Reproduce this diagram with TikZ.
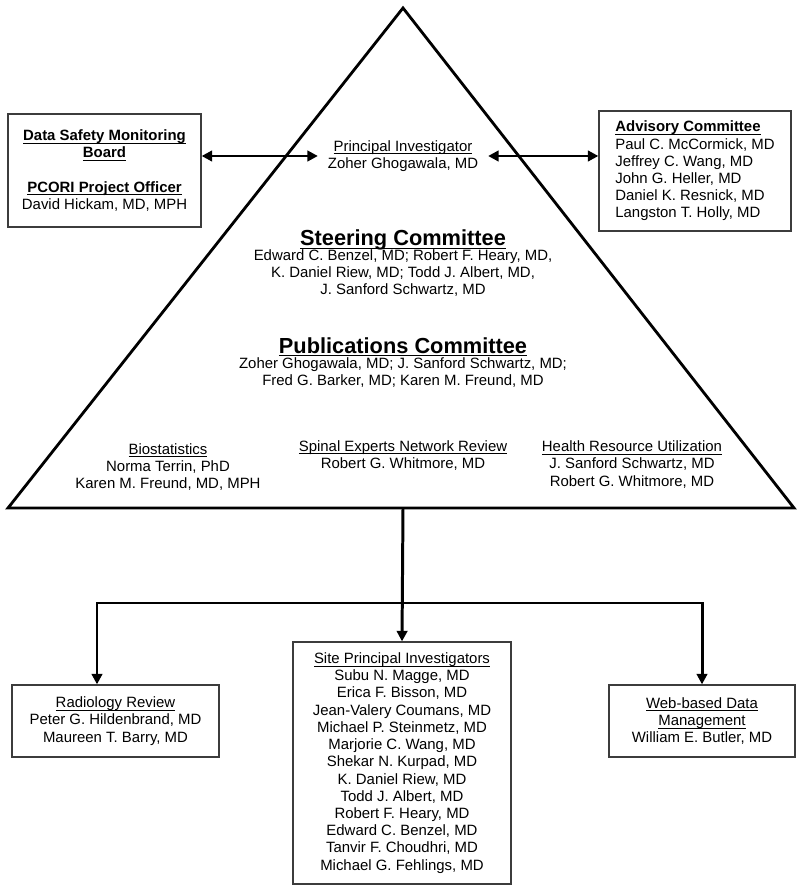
\documentclass[tikz,border=0pt]{standalone}
\usepackage{fontspec}
\setmainfont{Liberation Sans}
\usepackage{tikz}
\usetikzlibrary{arrows.meta,positioning,calc}
\definecolor{orgInk}{HTML}{000000}
\definecolor{orgFrame}{HTML}{3C3C3C}
\newcommand{\bodyfont}{\fontsize{8.5}{9.8}\selectfont}
\newcommand{\headfont}{\fontsize{12.4}{14}\selectfont\bfseries}
\newcommand{\rolehead}[1]{\underline{\smash{#1}}\vphantom{#1}}
\tikzset{
  unitbox/.style={draw=orgFrame,line width=.75pt,align=center,font=\bodyfont,
    inner sep=2pt},
  member/.style={align=center,font=\bodyfont,inner sep=0pt},
  committee/.style={align=center,font=\headfont,inner sep=0pt},
  link/.style={line width=1.7pt,orgInk,-{Triangle[length=6pt,width=6pt]}},
  bothways/.style={line width=1.7pt,orgInk,
    {Triangle[length=6pt,width=6pt]}-{Triangle[length=6pt,width=6pt]}},
  pyramid/.style={line width=1.6pt,orgInk,line join=miter}
}

\begin{document}
\begin{tikzpicture}[x=0.02cm,y=-0.02cm]
  \useasboundingbox (0,0) rectangle (800,891);
  \coordinate (apex) at (403,8);
  \coordinate (baseL) at (8,508);
  \coordinate (baseR) at (794,508);
  \coordinate (baseM) at (403,508);
  \coordinate (barL) at (97,603);
  \coordinate (barR) at (702,603);
  \draw[pyramid] (apex) -- (baseR) -- (baseL) -- cycle;

  \node[member,inner sep=5.5pt] (pi) at (403,156)
       {\rolehead{Principal Investigator}\\Zoher Ghogawala, MD};
  \node[committee] (steerT) at (403,240) {\rolehead{Steering Committee}};
  \node[member] (steerM) at (403,273)
       {Edward C. Benzel, MD; Robert F. Heary, MD,\\K. Daniel Riew, MD; Todd J. Albert, MD,\\J. Sanford Schwartz, MD};
  \node[committee] (pubT) at (403,347) {\rolehead{Publications Committee}};
  \node[member] (pubM) at (403,372.5)
       {Zoher Ghogawala, MD; J. Sanford Schwartz, MD;\\Fred G. Barker, MD; Karen M. Freund, MD};
  \node[member] (bio) at (168,467)
       {\rolehead{Biostatistics}\\Norma Terrin, PhD\\Karen M. Freund, MD, MPH};
  \node[member] (spine) at (403,455.5)
       {\rolehead{Spinal Experts Network Review}\\Robert G. Whitmore, MD};
  \node[member] (health) at (632,464.5)
       {\rolehead{Health Resource Utilization}\\J. Sanford Schwartz, MD\\Robert G. Whitmore, MD};

  \node[unitbox,minimum width=3.86cm,minimum height=2.26cm] (dsmb) at (104.5,170.5)
       {\rolehead{\textbf{Data Safety Monitoring}}\\\rolehead{\textbf{Board}}\\[9.8pt]
        \rolehead{\textbf{PCORI Project Officer}}\\David Hickam, MD, MPH};
  \node[unitbox,align=left,minimum width=3.84cm,minimum height=2.40cm] (advis) at (695,171)
       {\rolehead{\textbf{Advisory Committee}}\\Paul C. McCormick, MD\\Jeffrey C. Wang, MD\\
        John G. Heller, MD\\Daniel K. Resnick, MD\\Langston T. Holly, MD};
  \node[unitbox,minimum width=4.14cm,minimum height=1.44cm] (radio) at (115.5,721)
       {\rolehead{Radiology Review}\\Peter G. Hildenbrand, MD\\Maureen T. Barry, MD};
  \node[unitbox,minimum width=4.36cm,minimum height=4.84cm] (site) at (402,763)
       {\rolehead{Site Principal Investigators}\\Subu N. Magge, MD\\Erica F. Bisson, MD\\
        Jean-Valery Coumans, MD\\Michael P. Steinmetz, MD\\Marjorie C. Wang, MD\\
        Shekar N. Kurpad, MD\\K. Daniel Riew, MD\\Todd J. Albert, MD\\Robert F. Heary, MD\\
        Edward C. Benzel, MD\\Tanvir F. Choudhri, MD\\Michael G. Fehlings, MD};
  \node[unitbox,minimum width=3.72cm,minimum height=1.44cm] (web) at (702,721)
       {\rolehead{Web-based Data}\\\rolehead{Management}\\William E. Butler, MD};

  \draw[bothways] (dsmb.east |- pi.west) -- (pi.west);
  \draw[bothways] (pi.east) -- (pi.east -| advis.west);
  \draw[link] (baseM) -- (site.north);
  \draw[link] (baseM |- barL) -- (barL) -- (barL |- radio.north);
  \draw[link] (baseM |- barR) -- (barR) -- (barR |- web.north);
\end{tikzpicture}
\end{document}
